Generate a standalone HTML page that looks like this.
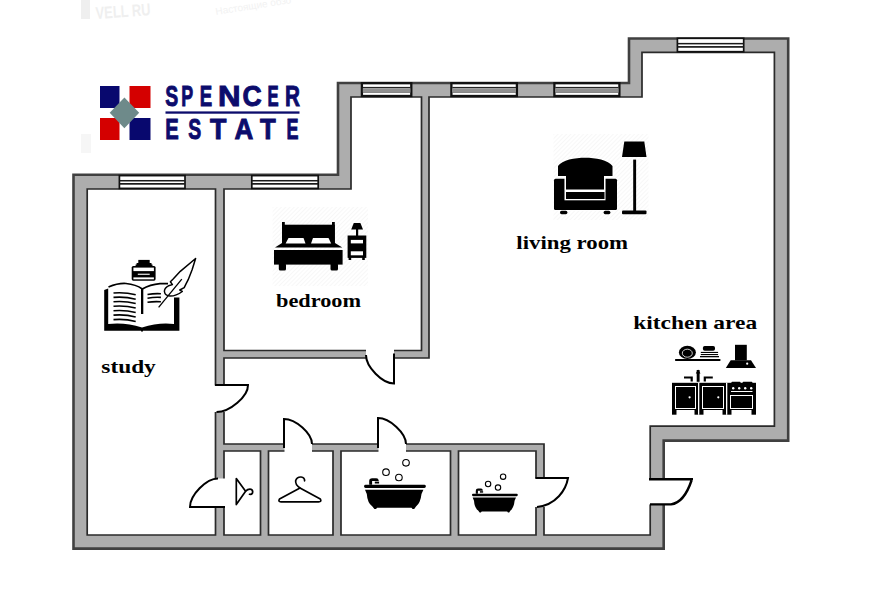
<!DOCTYPE html>
<html><head><meta charset="utf-8">
<style>
html,body{margin:0;padding:0;background:#fff;width:872px;height:608px;overflow:hidden}
svg{display:block}
.lbl{font-family:"Liberation Serif",serif;font-weight:bold;fill:#000}
</style></head>
<body>
<svg width="872" height="608" viewBox="0 0 872 608">
<g fill="#efefef">
<rect x="81" y="0" width="9" height="19"/>
<text x="96" y="19" textLength="55" lengthAdjust="spacingAndGlyphs" style="font-family:'Liberation Sans',sans-serif;font-weight:bold;font-size:17px" transform="rotate(-4 96 19)">VELL RU</text>
<text x="216" y="15" style="font-family:'Liberation Sans',sans-serif;font-size:10px" fill="#f2f2f2" transform="rotate(-9 216 15)">Настоящие обзо</text>
<rect x="81" y="134" width="10" height="19" fill="#f6f6f6"/>
</g>
<defs>
<pattern id="hatch" width="3" height="3" patternUnits="userSpaceOnUse" patternTransform="rotate(-45)">
<rect width="3" height="3" fill="#fff"/>
<rect width="3" height="1" fill="#f7f7f7"/>
</pattern>
</defs>
<!-- building outline -->
<path d="M73.5,174.8 H338 V83 H629 V38.5 H788.2 V440.6 H663.7 V548.6 H73.5 Z" fill="#adadad" stroke="#404040" stroke-width="2.6"/>
<!-- rooms -->
<g fill="#fff" stroke="#2a2a2a" stroke-width="1.7">
<path d="M87.2,189 H215.5 V535 H87.2 Z"/>
<path d="M224,189 H351 V97 H421.5 V350.5 H224 Z"/>
<path d="M429,97 H642 V52.4 H774.4 V426.2 H650.2 V535 H544 V444 H224 V358 H429 Z"/>
<path d="M224,451 H260.5 V535 H224 Z"/>
<path d="M268.5,451 H333 V535 H268.5 Z"/>
<path d="M341,451 H450.5 V535 H341 Z"/>
<path d="M458.5,451 H536 V535 H458.5 Z"/>
</g>
<!-- windows -->
<g id="wins">
<rect x="119.40" y="175.60" width="65.60" height="12.80" fill="#fff" stroke="#111" stroke-width="1.7"/><rect x="119.60" y="179.98" width="65.20" height="1.5" fill="#1a1a1a"/><rect x="119.60" y="183.01" width="65.20" height="1.7" fill="#1a1a1a"/>
<rect x="251.80" y="175.60" width="66.40" height="12.80" fill="#fff" stroke="#111" stroke-width="1.7"/><rect x="252.00" y="179.98" width="66.00" height="1.5" fill="#1a1a1a"/><rect x="252.00" y="183.01" width="66.00" height="1.7" fill="#1a1a1a"/>
<rect x="677.40" y="38.30" width="66.30" height="13.40" fill="#fff" stroke="#111" stroke-width="1.7"/><rect x="677.60" y="42.90" width="65.90" height="1.5" fill="#1a1a1a"/><rect x="677.60" y="46.05" width="65.90" height="1.7" fill="#1a1a1a"/>
<rect x="361.90" y="83.20" width="49.40" height="12.80" fill="#fff" stroke="#111" stroke-width="2.3"/><rect x="362.80" y="86.9" width="47.60" height="1.4" fill="#222"/><rect x="362.80" y="88.3" width="47.60" height="4.1" fill="#909090"/><rect x="362.80" y="92.2" width="47.60" height="0.6" fill="#555"/>
<rect x="451.40" y="83.20" width="65.50" height="12.80" fill="#fff" stroke="#111" stroke-width="2.3"/><rect x="452.30" y="86.9" width="63.70" height="1.4" fill="#222"/><rect x="452.30" y="88.3" width="63.70" height="4.1" fill="#909090"/><rect x="452.30" y="92.2" width="63.70" height="0.6" fill="#555"/>
<rect x="554.40" y="83.20" width="65.00" height="12.80" fill="#fff" stroke="#111" stroke-width="2.3"/><rect x="555.30" y="86.9" width="63.20" height="1.4" fill="#222"/><rect x="555.30" y="88.3" width="63.20" height="4.1" fill="#909090"/><rect x="555.30" y="92.2" width="63.20" height="0.6" fill="#555"/>
</g>
<!-- doors -->
<g id="doors" fill="none" stroke="#000" stroke-width="2">
<g fill="#fff" stroke="none">
<rect x="213" y="385.5" width="13" height="26.5"/>
<rect x="366" y="348" width="28" height="12"/>
<rect x="284.5" y="442" width="27.5" height="11"/>
<rect x="378.5" y="442" width="27.5" height="11"/>
<rect x="534" y="478.5" width="12" height="28.5"/>
<rect x="213" y="478.5" width="13" height="28.5"/>
<rect x="647" y="479.2" width="19" height="25.2"/>
</g>
<path d="M215,385 L248,385 C248.21,396.34 229.94,412.00 216.5,412"/>
<path d="M394,353.5 L394,383.5 C382.24,383.50 366.00,366.97 366,355"/>
<path d="M284,448 L284,419 C295.76,419.00 312.00,433.50 312,444"/>
<path d="M378,448 L378,418 C389.76,418.00 406.00,433.08 406,444"/>
<path d="M535.5,478 L568,478 C566,490 556,505 537,507"/>
<path d="M225,507 L190,507 C190.00,495.03 206.24,478.50 218,478.5"/>
<path d="M649,479.2 H693 M691.5,480.5 C 687,494 681,503 671,504.4 H650" stroke-width="2.4"/>
</g>
<rect x="272.6" y="207" width="95.4" height="79" fill="url(#hatch)"/>
<rect x="553.5" y="134" width="95" height="86" fill="url(#hatch)"/>
<!-- icons -->
<g id="bed" fill="#000">
<rect x="282" y="222" width="2.8" height="22"/>
<rect x="332" y="222" width="2.8" height="22"/>
<rect x="282" y="224.7" width="52.8" height="19"/>
<path d="M275,247.6 L282,243 H335 L342.3,247.6 Z"/>
<path d="M285.6,243.4 L288.5,238 H303.5 L305.5,243.4 Z" fill="#fff"/>
<path d="M311,243.4 L313,238 H328.5 L331.2,243.4 Z" fill="#fff"/>
<rect x="274" y="250" width="68.6" height="14.6"/>
<rect x="278.8" y="263" width="7.2" height="7.4" rx="1.5"/>
<rect x="330.5" y="263" width="7.5" height="7.4" rx="1.5"/>
<path d="M353.8,223 H360.4 L363,229.6 H351.2 Z"/>
<rect x="356" y="229" width="2.2" height="7"/>
<rect x="347.6" y="235.5" width="18.7" height="22.4"/>
<rect x="350.8" y="239.9" width="12.2" height="3.5" fill="#fff"/>
<rect x="350.8" y="251.3" width="12.2" height="4" fill="#fff"/>
<rect x="348.6" y="257" width="2.6" height="3"/>
<rect x="362.2" y="257" width="2.6" height="3"/>
</g>
<g id="chair" fill="#000">
<rect x="554" y="178.8" width="63" height="31.2" rx="1.5"/>
<rect x="554" y="210" width="63" height="0.8" fill="#fff"/>
<rect x="564.5" y="175" width="41" height="25.3" fill="#fff"/>
<path d="M558,176 V166 C 562,160 575,157.8 585.2,157.8 C 595,157.8 608.5,160 612.5,166 V176 H604 V189.5 H566 V176 Z" stroke="#fff" stroke-width="2.2" paint-order="stroke"/>
<rect x="566" y="192" width="38.5" height="7"/>
<rect x="560" y="210.8" width="7.4" height="3.4" rx="1.6"/>
<rect x="603.6" y="210.8" width="6.8" height="3.4" rx="1.6"/>
<path d="M624.3,141.5 H644.3 L646.5,157 H622 Z"/>
<rect x="633.2" y="159.6" width="2.9" height="51.5"/>
<rect x="622" y="210.6" width="24.5" height="3.6" rx="1"/>
</g>
<g id="kitchen" fill="#000">
<rect x="674.9" y="358.9" width="45.7" height="2.2" rx="1"/>
<ellipse cx="687.4" cy="352.4" rx="8.5" ry="6.6"/>
<ellipse cx="687.3" cy="353.2" rx="5" ry="4" fill="none" stroke="#fff" stroke-width="0.8"/>
<rect x="702.9" y="345.9" width="12.1" height="4.8" rx="1.8"/>
<rect x="700.8" y="351.9" width="17.3" height="1.1"/>
<rect x="700.8" y="354" width="17.3" height="1.1"/>
<rect x="700" y="356" width="19" height="1.3"/>
<rect x="735" y="344.8" width="11.8" height="15.6"/>
<path d="M730.7,360.2 H751 L756,367.9 H725.8 Z"/>
<circle cx="747.2" cy="363.7" r="1.1" fill="#fff"/>
<rect x="696.7" y="370" width="2.9" height="11.8"/>
<path d="M695.8,373.5 L698.1,369.5 L700.5,373.5 Z"/>
<path d="M684,376.5 H692.8 V381.6 H690.6 V378.6 H684 Z"/>
<path d="M712.8,376.5 H703.7 V381.6 H705.9 V378.6 H712.8 Z"/>
<rect x="672" y="382.8" width="84" height="31.9"/>
<rect x="731.4" y="381.8" width="9.2" height="2" rx="0.8"/>
<rect x="742.6" y="381.8" width="9.8" height="2" rx="0.8"/>
<rect x="698" y="382.8" width="1.3" height="32" fill="#fff"/>
<rect x="726" y="382.8" width="1.3" height="32" fill="#fff"/>
<g fill="none" stroke="#fff" stroke-width="1">
<rect x="675.5" y="386.5" width="20" height="22"/>
<rect x="702.5" y="386.5" width="21" height="22"/>
<rect x="730.5" y="395.5" width="22" height="13"/>
<path d="M731,391.5 H752.5"/>
</g>
<rect x="676.5" y="410" width="18" height="5" fill="#fff"/>
<rect x="703.5" y="410" width="19" height="5" fill="#fff"/>
<rect x="731.5" y="410" width="20" height="5" fill="#fff"/>
<circle cx="689.6" cy="397.3" r="1.1" fill="#fff"/>
<circle cx="718.3" cy="397.3" r="1.1" fill="#fff"/>
<circle cx="733.2" cy="388.2" r="1.2" fill="#fff"/>
<circle cx="739.2" cy="388.2" r="1.2" fill="#fff"/>
<circle cx="745.2" cy="388.2" r="1.2" fill="#fff"/>
<circle cx="751.2" cy="388.2" r="1.2" fill="#fff"/>
</g>
<g id="hangers" fill="none" stroke="#000" stroke-width="1.7" stroke-linejoin="round" stroke-linecap="round">
<path d="M236.3,478.6 V504.6 L245.6,491.2 Z"/>
<path d="M245.6,491.2 Q 248,488.8 251,489.3 Q 253.3,490.5 252.5,493 Q 251.5,494.8 249.5,494.3"/>
<path d="M300,488 L279.5,499 Q 277.8,501.8 281,501.8 H318.6 Q 322,501.8 320.3,499 Z"/>
<path d="M300,488 Q 295,484.5 295.7,480.5 Q 297,476.8 301,477 Q 304.8,477.6 304.6,480.8"/>
</g>
<g id="bath1">
<rect x="364.1" y="484.8" width="61.7" height="3.2" rx="1.4"/>
<path d="M365,489.8 H423.4 L421.5,494 Q 420.5,503 416,506.5 L414.2,509 H412.6 L411.5,507.8 H377.2 L376,509 H374.4 L372.4,506.5 Q 367.4,503 366.8,494 Z"/>
<path d="M369.2,484.8 V481 Q 369.2,478.3 372.2,478.3 H376.3 Q 378.5,478.3 378.7,480.6 V481 H372.1 V484.8 Z"/>
<rect x="374.8" y="481.6" width="4.3" height="1.9"/>
</g>
<g id="bath2" transform="translate(472,488.6) scale(0.742,0.78) translate(-364.1,-478.3)">
<rect x="364.1" y="484.8" width="61.7" height="3.2" rx="1.4"/>
<path d="M365,489.8 H423.4 L421.5,494 Q 420.5,503 416,506.5 L414.2,509 H412.6 L411.5,507.8 H377.2 L376,509 H374.4 L372.4,506.5 Q 367.4,503 366.8,494 Z"/>
<path d="M369.2,484.8 V481 Q 369.2,478.3 372.2,478.3 H376.3 Q 378.5,478.3 378.7,480.6 V481 H372.1 V484.8 Z"/>
<rect x="374.8" y="481.6" width="4.3" height="1.9"/>
</g>
<g fill="#fff" stroke="#000" stroke-width="1.1">
<circle cx="386" cy="472.2" r="3.3"/>
<circle cx="398.9" cy="477.5" r="3.3"/>
<circle cx="406" cy="462.8" r="3.3"/>
<circle cx="488.1" cy="484" r="2.7"/>
<circle cx="498" cy="487.6" r="2.7"/>
<circle cx="503.1" cy="476.7" r="2.7"/>
</g>
<g id="study">
<rect x="138.3" y="259.9" width="11.4" height="3.5"/>
<path d="M136.6,263 H151.5 V264.5 H152.5 V266.2 H135.6 V264.5 H136.6 Z"/>
<rect x="131.7" y="265.9" width="23.9" height="14.8" rx="1.6"/>
<rect x="133.4" y="267.6" width="20.5" height="3.5" fill="#fff"/>
<rect x="133.4" y="277.4" width="20.5" height="1.9" fill="#fff"/>
<rect x="137.8" y="273.7" width="11.9" height="1.1" fill="#fff"/>
<path d="M104.2,290 L108.2,288.5 V324 Q 125,322 142,327.5 Q 159,322 174,324 V297.4 H179.4 V330.8 H143 L142,332.3 L141,330.8 H104.2 Z"/>
<path d="M108.5,287 Q 118,283 126,283.5 Q 136,284.5 142.3,289 Q 150,284.5 160,283.6 L168,283.6" fill="none" stroke="#000" stroke-width="1.7"/>
<rect x="141" y="289" width="2.3" height="25"/>
<g fill="none" stroke="#000" stroke-width="1.6">
<path d="M113.5,293 Q 125,292 135.7,294.8"/>
<path d="M113.5,297.4 Q 125,296.4 135.7,299.2"/>
<path d="M113.5,301.8 Q 125,300.8 135.7,303.6"/>
<path d="M113.5,306.3 Q 125,305.3 135.7,308.1"/>
<path d="M113.5,310.7 Q 125,309.7 135.7,312.5"/>
<path d="M113.5,315.1 Q 125,314.1 135.7,316.9"/>
<path d="M113.5,319.6 Q 125,318.6 135.7,321.4"/>
<path d="M147.5,294.5 Q 154,293.3 160.9,293.7"/>
<path d="M147.5,298.2 Q 154,297 160.9,297.4"/>
<path d="M147.5,302.3 Q 154,301.3 160.9,301.8"/>
</g>
<path d="M195.6,258.5 L180.3,271.3 L173.4,278.7 L170.4,281.7 L172.4,284.6 L168.5,285.8 Q164.3,288 164.4,291.5 Q165,295.8 170,296.1 Q176,296.2 182.3,291.5 L179.8,290 L184.2,287.6 Q 186,284 188.2,279.7 L192.1,269.8 Z" fill="#fff" stroke="#000" stroke-width="1.5" stroke-linejoin="round"/>
<path d="M158.6,307.3 L181.8,279.2" stroke="#000" stroke-width="1.3" fill="none"/>
</g>
<!-- logo -->
<g id="logo">
<rect x="100" y="86" width="19.5" height="22" fill="#08086e"/>
<rect x="129.5" y="86" width="21" height="22" fill="#d40000"/>
<rect x="100" y="118" width="19.5" height="22" fill="#d40000"/>
<rect x="129.5" y="118" width="21" height="22" fill="#08086e"/>
<path d="M124.4,97.6 L139.2,112.8 L124.4,128.2 L109.7,112.8 Z" fill="#6e8a8a"/>
<g style="font-family:'Liberation Sans',sans-serif;font-weight:bold;font-size:30px;fill:#0c0c6c;stroke:#0c0c6c;stroke-width:1.0"><text transform="translate(165.30,106.42) scale(0.647,0.977)">S</text><text transform="translate(181.31,106.42) scale(0.595,0.977)">P</text><text transform="translate(199.68,106.42) scale(0.621,0.977)">E</text><text transform="translate(217.96,106.42) scale(1.042,0.977)">N</text><text transform="translate(242.62,106.42) scale(0.885,0.977)">C</text><text transform="translate(267.44,106.42) scale(0.558,0.977)">E</text><text transform="translate(284.91,106.42) scale(0.690,0.977)">R</text><text transform="translate(165.23,138.90) scale(0.674,0.995)">E</text><text transform="translate(188.30,138.90) scale(0.647,0.995)">S</text><text transform="translate(210.00,138.90) scale(0.895,0.995)">T</text><text transform="translate(234.50,138.90) scale(0.867,0.995)">A</text><text transform="translate(259.90,138.90) scale(0.858,0.995)">T</text><text transform="translate(286.60,138.90) scale(0.600,0.995)">E</text></g>
<rect x="165.5" y="111.4" width="134" height="2.3" fill="#0c0c6c"/>
</g>
<!-- labels -->
<text class="lbl" y="372.5" font-size="19.5" textLength="54.5" x="101.3" lengthAdjust="spacingAndGlyphs">study</text>
<text class="lbl" x="276" y="307" font-size="19.5" textLength="85" lengthAdjust="spacingAndGlyphs">bedroom</text>
<text class="lbl" x="516.3" y="249" font-size="19.5" textLength="111.8" lengthAdjust="spacingAndGlyphs">living room</text>
<text class="lbl" x="633.3" y="329" font-size="19.5" textLength="123.8" lengthAdjust="spacingAndGlyphs">kitchen area</text>
</svg>
</body></html>
